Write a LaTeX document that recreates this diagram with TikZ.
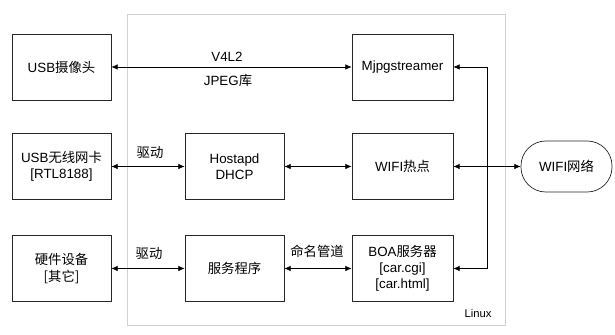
\documentclass[tikz,border=0pt]{standalone}
\usepackage{fontspec}
\setmainfont{Liberation Sans}
\newfontfamily\cjk{Noto Sans CJK SC}
\newcommand{\zh}[1]{{\cjk #1}}
\usetikzlibrary{arrows.meta}

\begin{document}
\begin{tikzpicture}[font=\fontsize{9.5}{11.5}\selectfont,
  blk/.style={draw=black!85,line width=.5pt,minimum width=2.475cm,minimum height=1.65cm,align=center,inner sep=1pt},
  conn/.style={{Latex[length=4.5pt,width=4pt]}-{Latex[length=4.5pt,width=4pt]},black,line width=.5pt}]
\useasboundingbox (0,0) rectangle (15.375,8.375);
\draw[black!18,line width=.6pt] (3.175,.25) rectangle (12.625,8.025);
\node[anchor=south] (linux) at (11.95,.3) {\fontsize{8}{9}\selectfont Linux};
% left column
\node[blk] (cam) at (1.5375,6.7) {USB\zh{摄像头}};
\node[blk] (wlan) at (1.5375,4.2125) {USB\zh{无线网卡}\\{}[RTL8188]};
\node[blk] (hw) at (1.5375,1.6625) {\zh{硬件设备}\\\zh{[其它]}};
% middle column
\node[blk] (hostapd) at (5.8625,4.2125) {Hostapd\\DHCP};
\node[blk] (srv) at (5.8625,1.6625) {\zh{服务程序}};
% right column
\node[blk,minimum width=2.525cm] (mjpg) at (10.0625,6.7) {Mjpgstreamer};
\node[blk,minimum width=2.525cm] (hotspot) at (10.0625,4.2125) {WIFI\zh{热点}};
\node[blk,minimum width=2.525cm,align=center] (boa) at (10.0625,1.6625) {BOA\zh{服务器}\\{}[car.cgi]\\{}[car.html]};
\node[draw=black!85,line width=.5pt,rounded corners=.62cm,minimum width=2.275cm,minimum height=1.275cm] (wifi) at (14.1625,4.2125) {WIFI\zh{网络}};
% links
\draw[conn] (cam.east) -- (mjpg.west);
\node (v4l2) at (5.675,6.9625) {V4L2};
\node (jpeg) at (5.7,6.375) {JPEG\zh{库}};
\draw[conn] (wlan.east) -- (hostapd.west);
\node (drv1) at (3.75,4.55) {\zh{驱动}};
\draw[conn] (hw.east) -- (srv.west);
\node (drv2) at (3.725,2.025) {\zh{驱动}};
\draw[conn] (hostapd.east) -- (hotspot.west);
\draw[conn] (srv.east) -- (boa.west);
\node (pipe) at (7.925,2.1) {\zh{命名管道}};
\coordinate (bus) at (12.175,4.2125);
\draw[conn] (mjpg.east) -- (mjpg.east -| bus) -- (boa.east -| bus) -- (boa.east);
\draw[conn] (hotspot.east) -- (wifi.west);
\end{tikzpicture}
\end{document}
